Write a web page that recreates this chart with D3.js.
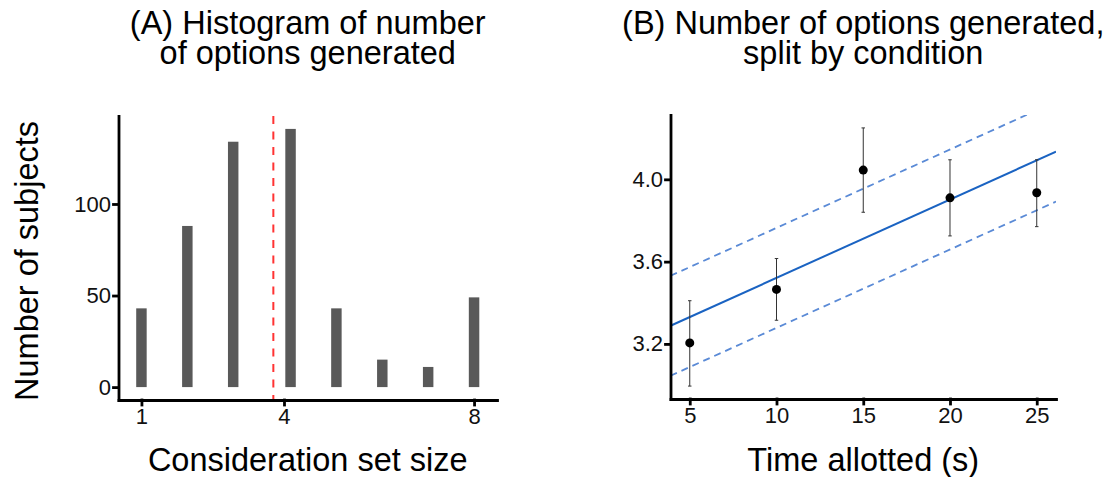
<!DOCTYPE html>
<html>
<head>
<meta charset="utf-8">
<script src="https://cdn.jsdelivr.net/npm/d3@7"></script>
<style>
  body { margin: 0; background: #fff; }
  svg { display: block; font-family: "Liberation Sans", Arial, sans-serif; }
  .axis .domain, .axis line { stroke: #000; stroke-width: 2.8px; stroke-linecap: square; }
  .axis text { font-size: 22px; fill: #111; font-family: "Liberation Sans", Arial, sans-serif; }
  .title { font-size: 32.5px; fill: #000; }
</style>
</head>
<body>
<div id="chart"></div>
<script>
// panel A: histogram of consideration set size
const binCenters = [1, 1.966, 2.931, 4.138, 5.103, 6.069, 7.034, 8];
const binCounts = [43, 88, 134, 141, 43, 15, 11, 49];
const binWidth = 0.2414;
const meanSetSize = 3.776;
const histXTicks = [1, 4, 8];
const histYTicks = [0, 50, 100];

// panel B: options generated by time allotted
const timeAllotted = [5, 10, 15, 20, 25];
const optionMeans = [3.205, 3.465, 4.045, 3.91, 3.935];
const optionLower = [2.995, 3.315, 3.84, 3.725, 3.77];
const optionUpper = [3.41, 3.615, 4.25, 4.095, 4.095];
const fitIntercept = 3.14;
const fitSlope = 0.0381;
const fitBand = 0.243;
const timeTicks = [5, 10, 15, 20, 25];
const optionTicks = [3.2, 3.6, 4.0];

const width = 1104, height = 477;
const svg = d3.select("#chart").append("svg")
  .attr("width", width)
  .attr("height", height);

// ggplot style 5% expansion
function expand(lo, hi) {
  const pad = (hi - lo) * 0.05;
  return [lo - pad, hi + pad];
}

// ---------- Panel A ----------
const pA = { left: 118.5, right: 497, top: 116, bottom: 400 };

const xA = d3.scaleLinear()
  .domain(expand(d3.min(binCenters) - binWidth / 2, d3.max(binCenters) + binWidth / 2))
  .range([pA.left, pA.right]);
const yA = d3.scaleLinear()
  .domain(expand(0, d3.max(binCounts)))
  .range([pA.bottom, pA.top]);

const hist = binCenters.map((c, i) => ({ c: c, n: binCounts[i] }));

svg.append("g")
  .selectAll("rect")
  .data(hist)
  .join("rect")
  .attr("x", d => xA(d.c - binWidth / 2) + 0.5)
  .attr("width", d => xA(d.c + binWidth / 2) - xA(d.c - binWidth / 2) - 1)
  .attr("y", d => yA(d.n))
  .attr("height", d => yA(0) - yA(d.n))
  .attr("fill", "#595959");

svg.append("line")
  .attr("x1", xA(meanSetSize)).attr("x2", xA(meanSetSize))
  .attr("y1", pA.top).attr("y2", pA.bottom)
  .attr("stroke", "#ff3333")
  .attr("stroke-width", 2)
  .attr("stroke-dasharray", "8,7.5");

svg.append("g")
  .attr("class", "axis")
  .attr("transform", `translate(0,${pA.bottom})`)
  .call(d3.axisBottom(xA).tickValues(histXTicks).tickSize(5).tickSizeOuter(0).tickPadding(3).tickFormat(d3.format("d")));

svg.append("g")
  .attr("class", "axis")
  .attr("transform", `translate(${pA.left},0)`)
  .call(d3.axisLeft(yA).tickValues(histYTicks).tickSize(5).tickSizeOuter(0).tickPadding(2.5).tickFormat(d3.format("d")));

// ---------- Panel B ----------
const pB = { left: 670.5, right: 1056, top: 115, bottom: 399 };
const capHalf = 0.1;

const xB = d3.scaleLinear()
  .domain(expand(d3.min(timeAllotted) - capHalf, d3.max(timeAllotted) + capHalf))
  .range([pB.left, pB.right]);
const yB = d3.scaleLinear()
  .domain(expand(d3.min(optionLower), d3.max(optionUpper)))
  .range([pB.bottom, pB.top]);

svg.append("clipPath").attr("id", "clipB")
  .append("rect")
  .attr("x", pB.left).attr("y", pB.top)
  .attr("width", pB.right - pB.left).attr("height", pB.bottom - pB.top);

const fitG = svg.append("g").attr("clip-path", "url(#clipB)");
const [x0, x1] = xB.domain();
const fitLines = [
  { off: fitBand, dash: "7,5", color: "#5a8ad6", w: 1.8 },
  { off: -fitBand, dash: "7,5", color: "#5a8ad6", w: 1.8 },
  { off: 0, dash: null, color: "#1a63c2", w: 2 }
];
fitG.selectAll("line")
  .data(fitLines)
  .join("line")
  .attr("x1", xB(x0)).attr("x2", xB(x1))
  .attr("y1", d => yB(fitIntercept + fitSlope * x0 + d.off))
  .attr("y2", d => yB(fitIntercept + fitSlope * x1 + d.off))
  .attr("stroke", d => d.color)
  .attr("stroke-width", d => d.w)
  .attr("stroke-dasharray", d => d.dash);

const pts = timeAllotted.map((t, i) => ({ t: t, m: optionMeans[i], lo: optionLower[i], hi: optionUpper[i] }));

const eb = svg.append("g")
  .attr("stroke", "#333")
  .attr("stroke-width", 1);
eb.selectAll(".stem")
  .data(pts)
  .join("line")
  .attr("class", "stem")
  .attr("x1", d => xB(d.t)).attr("x2", d => xB(d.t))
  .attr("y1", d => yB(d.lo)).attr("y2", d => yB(d.hi));
eb.selectAll(".capHi")
  .data(pts)
  .join("line")
  .attr("class", "capHi")
  .attr("x1", d => xB(d.t - capHalf)).attr("x2", d => xB(d.t + capHalf))
  .attr("y1", d => yB(d.hi)).attr("y2", d => yB(d.hi));
eb.selectAll(".capLo")
  .data(pts)
  .join("line")
  .attr("class", "capLo")
  .attr("x1", d => xB(d.t - capHalf)).attr("x2", d => xB(d.t + capHalf))
  .attr("y1", d => yB(d.lo)).attr("y2", d => yB(d.lo));

svg.append("g")
  .selectAll("circle")
  .data(pts)
  .join("circle")
  .attr("cx", d => xB(d.t))
  .attr("cy", d => yB(d.m))
  .attr("r", 4.5)
  .attr("fill", "#000");

svg.append("g")
  .attr("class", "axis")
  .attr("transform", `translate(0,${pB.bottom})`)
  .call(d3.axisBottom(xB).tickValues(timeTicks).tickSize(5).tickSizeOuter(0).tickPadding(3).tickFormat(d3.format("d")));

svg.append("g")
  .attr("class", "axis")
  .attr("transform", `translate(${pB.left},0)`)
  .call(d3.axisLeft(yB).tickValues(optionTicks).tickSize(5).tickSizeOuter(0).tickPadding(2.5).tickFormat(d3.format(".1f")));

// ---------- titles ----------
function title(x, y, lines, rotate) {
  const t = svg.append("text")
    .attr("class", "title")
    .attr("text-anchor", "middle")
    .attr("transform", `translate(${x},${y})` + (rotate ? " rotate(-90)" : ""));
  lines.forEach((s, i) => t.append("tspan").attr("x", 0).attr("y", i * 30).text(s));
}

const cA = (pA.left + pA.right) / 2, cB = (pB.left + pB.right) / 2;
title(cA, 34, ["(A) Histogram of number", "of options generated"]);
title(cB, 34, ["(B) Number of options generated,", "split by condition"]);
title(cA, 471, ["Consideration set size"]);
title(cB, 471, ["Time allotted (s)"]);
title(38, 261, ["Number of subjects"], true);
</script>
</body>
</html>
